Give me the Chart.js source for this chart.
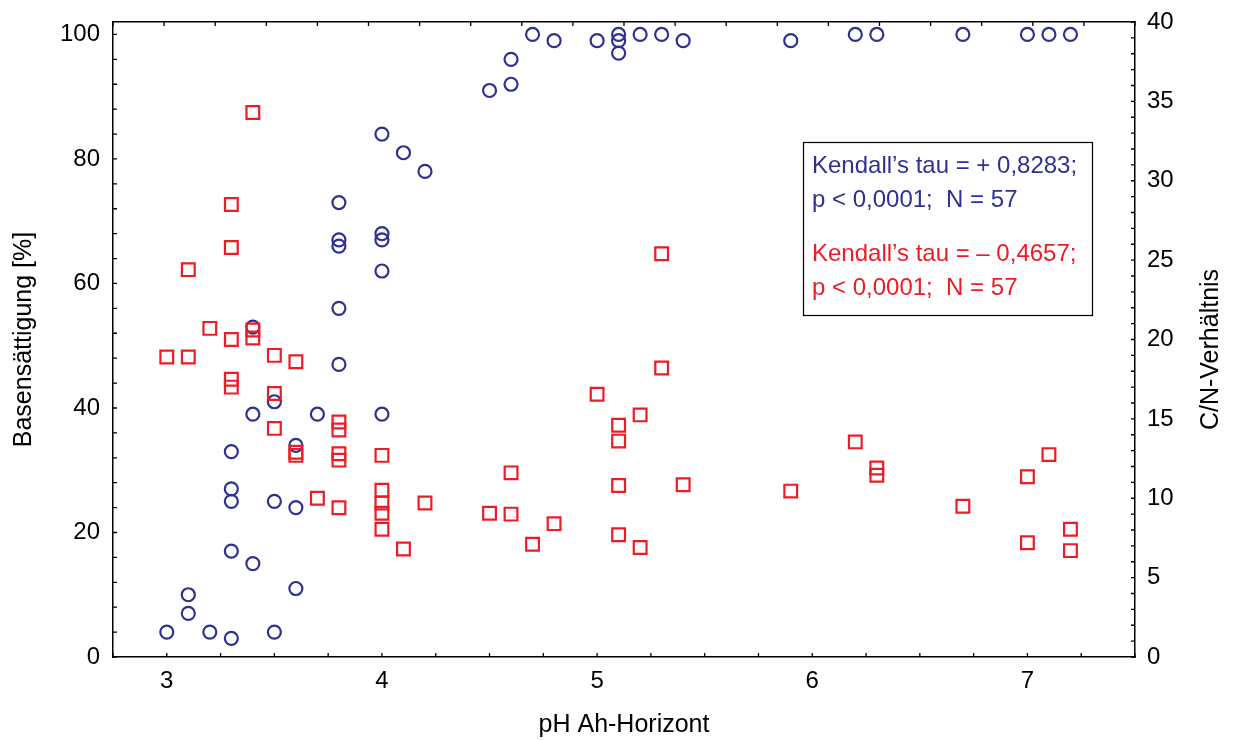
<!DOCTYPE html>
<html>
<head>
<meta charset="utf-8">
<script src="https://cdn.jsdelivr.net/npm/chart.js@4"></script>
<style>
  body { margin: 0; background: #fff; }
</style>
</head>
<body>
<canvas id="myChart" width="1235" height="740"></canvas>
<script>
// Basensättigung (left axis) against pH
var phBlue = [3.0, 3.1, 3.1, 3.2, 3.3, 3.3, 3.3, 3.3, 3.3, 3.4, 3.4, 3.4, 3.5, 3.5, 3.5, 3.6, 3.6, 3.6, 3.7,
  3.8, 3.8, 3.8, 3.8, 3.8, 4.0, 4.0, 4.0, 4.0, 4.0, 4.1, 4.2, 4.5, 4.6, 4.6, 4.7, 4.8, 5.0, 5.1, 5.1, 5.1,
  5.2, 5.3, 5.4, 5.9, 6.2, 6.3, 6.7, 7.0, 7.1, 7.2];
var basen = [4, 10, 7, 4, 3, 17, 25, 27, 33, 15, 39, 53, 4, 25, 41, 11, 24, 34, 39,
  47, 56, 66, 67, 73, 39, 62, 67, 68, 84, 81, 78, 91, 92, 96, 100, 99, 99, 100, 99, 97,
  100, 100, 99, 99, 100, 100, 100, 100, 100, 100];

// C/N-Verhältnis (right axis) against pH
var phRed = [3.0, 3.1, 3.1, 3.2, 3.3, 3.3, 3.3, 3.3, 3.3, 3.4, 3.4, 3.4, 3.5, 3.5, 3.5, 3.6, 3.6, 3.6, 3.7,
  3.8, 3.8, 3.8, 3.8, 3.8, 4.0, 4.0, 4.0, 4.0, 4.0, 4.1, 4.2, 4.5, 4.6, 4.6, 4.7, 4.8, 5.0, 5.1, 5.1, 5.1, 5.1,
  5.2, 5.2, 5.3, 5.3, 5.4, 5.9, 6.2, 6.3, 6.3, 6.7, 7.0, 7.0, 7.1, 7.2, 7.2];
var cn = [18.9, 18.9, 24.4, 20.7, 28.5, 25.8, 20.0, 17.5, 17.0, 34.3, 20.6, 20.1, 19.0, 16.6, 14.4, 18.6, 12.9, 12.7, 10.0,
  14.8, 14.3, 12.8, 12.4, 9.4, 12.7, 10.5, 9.7, 9.05, 8.05, 6.8, 9.7, 9.05, 11.6, 9.0, 7.1, 8.4, 16.55, 14.6, 13.6, 10.8, 7.7,
  15.25, 6.9, 25.4, 18.2, 10.85, 10.45, 13.55, 11.9, 11.45, 9.5, 11.35, 7.2, 12.75, 8.05, 6.7];

var statsBlue = ["Kendall\u2019s tau = + 0,8283;", "p < 0,0001;  N = 57"];
var statsRed = ["Kendall\u2019s tau = \u2013 0,4657;", "p < 0,0001;  N = 57"];

var BLUE = '#2e3192';
var RED = '#ed1c24';
var FONT = '"Liberation Sans", Arial, Helvetica, sans-serif';

Chart.defaults.font.family = FONT;
Chart.defaults.font.size = 24;
Chart.defaults.color = '#000';

function pairs(xs, ys) {
  return xs.map(function (x, i) { return { x: x, y: ys[i] }; });
}

// ticks pointing into the plot, drawn from each scale's own ticks
var innerTicks = {
  id: 'innerTicks',
  beforeDraw: function (chart) {
    var c = chart.ctx;
    c.save();
    c.fillStyle = '#fff';
    c.fillRect(0, 0, chart.width, chart.height);
    c.restore();
  },
  afterDraw: function (chart) {
    var c = chart.ctx;
    var a = chart.chartArea;
    var len = 4;
    c.save();
    c.strokeStyle = '#000';
    c.lineWidth = 1.3;
    c.beginPath();
    Object.keys(chart.scales).forEach(function (id) {
      var s = chart.scales[id];
      s.ticks.forEach(function (t) {
        var p = s.getPixelForValue(t.value);
        if (s.position === 'bottom') { c.moveTo(p, a.bottom); c.lineTo(p, a.bottom - len); }
        if (s.position === 'top') { c.moveTo(p, a.top); c.lineTo(p, a.top + len); }
        if (s.position === 'left') { c.moveTo(a.left, p); c.lineTo(a.left + len, p); }
        if (s.position === 'right') { c.moveTo(a.right, p); c.lineTo(a.right - len, p); }
      });
    });
    c.stroke();

    // right axis title, reading bottom to top
    c.fillStyle = '#000';
    c.font = '25px ' + FONT;
    c.textAlign = 'center';
    c.textBaseline = 'middle';
    c.translate(a.right + 76, (a.top + a.bottom) / 2 + 10);
    c.rotate(-Math.PI / 2);
    c.fillText('C/N-Verh\u00e4ltnis', 0, 0);
    c.restore();

    // statistics box
    var bx = a.left + 690, by = a.top + 120;
    c.save();
    c.fillStyle = '#fff';
    c.fillRect(bx, by, 289, 173);
    c.strokeStyle = '#000';
    c.lineWidth = 1.2;
    c.strokeRect(bx + 0.5, by + 0.5, 289, 173);
    c.font = '24px ' + FONT;
    c.textAlign = 'left';
    c.textBaseline = 'alphabetic';
    c.fillStyle = BLUE;
    c.fillText(statsBlue[0], bx + 9, by + 31);
    c.fillText(statsBlue[1], bx + 9, by + 65);
    c.fillStyle = RED;
    c.fillText(statsRed[0], bx + 9, by + 119);
    c.fillText(statsRed[1], bx + 9, by + 153);
    c.restore();
  }
};

var axisBorder = { display: true, color: '#000', width: 1.5 };
var noGrid = { drawOnChartArea: false, drawTicks: false };

function fixWidth(w) {
  return function (s) {
    s.width = w;
    s.paddingTop = 0;
    s.paddingBottom = 0;
  };
}

var ctx = document.getElementById('myChart');
var myChart = new Chart(ctx, {
  type: 'scatter',
  data: {
    datasets: [{
      label: 'C/N-Verhältnis',
      data: pairs(phRed, cn),
      yAxisID: 'y2',
      pointStyle: 'rect',
      pointRadius: 9,
      pointBorderWidth: 2.2,
      borderColor: RED,
      backgroundColor: 'rgba(0,0,0,0)'
    }, {
      label: 'Basensättigung',
      data: pairs(phBlue, basen),
      yAxisID: 'y',
      pointStyle: 'circle',
      pointRadius: 6.5,
      pointBorderWidth: 2.2,
      borderColor: BLUE,
      backgroundColor: 'rgba(0,0,0,0)'
    }]
  },
  options: {
    responsive: false,
    animation: false,
    layout: { padding: 0 },
    plugins: {
      legend: { display: false },
      tooltip: { enabled: false }
    },
    scales: {
      x: {
        type: 'linear',
        position: 'bottom',
        min: 2.75,
        max: 7.5,
        grid: noGrid,
        border: axisBorder,
        ticks: {
          stepSize: 0.25,
          autoSkip: false,
          maxRotation: 0,
          padding: 10,
          callback: function (v) { return Number.isInteger(v) ? v : ''; }
        },
        title: { display: true, text: 'pH Ah-Horizont', font: { size: 25 }, padding: { top: 0, bottom: 0 } },
        afterFit: function (s) { s.height = 83; }
      },
      x2: {
        type: 'linear',
        position: 'top',
        min: 0,
        max: 20,
        grid: noGrid,
        border: axisBorder,
        ticks: { stepSize: 1, autoSkip: false, display: false },
        afterFit: function (s) { s.height = 22; }
      },
      y: {
        type: 'linear',
        position: 'left',
        min: 0,
        max: 102,
        grid: noGrid,
        border: axisBorder,
        ticks: {
          stepSize: 4,
          includeBounds: false,
          autoSkip: false,
          padding: 13,
          callback: function (v) { return v % 20 === 0 ? v : ''; }
        },
        title: { display: true, text: 'Basens\u00e4ttigung [%]', font: { size: 25 }, padding: { top: 9, bottom: 0 } },
        afterFit: fixWidth(113)
      },
      y2: {
        type: 'linear',
        position: 'right',
        min: 0,
        max: 40,
        grid: noGrid,
        border: axisBorder,
        ticks: {
          stepSize: 1,
          autoSkip: false,
          padding: 12,
          callback: function (v) { return v % 5 === 0 ? v : ''; }
        },
        afterFit: fixWidth(100)
      }
    }
  },
  plugins: [innerTicks]
});
</script>
</body>
</html>
